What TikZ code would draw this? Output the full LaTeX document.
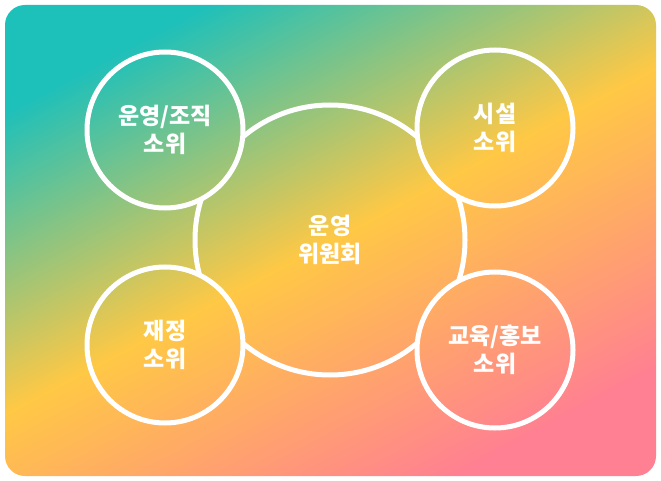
\documentclass[tikz,border=0pt]{standalone}
\usepackage{fontspec}
\newfontfamily\kr{Noto Sans CJK KR}
\definecolor{cteal}{HTML}{1EC0BA}
\definecolor{cyel}{HTML}{FFC845}
\definecolor{cpink}{HTML}{FF8092}
\begin{document}
\begin{tikzpicture}[x=1pt,y=-1pt,
  bg/.style={top color=cteal,bottom color=cpink,middle color=cyel,shading angle=28},
  ring/.style={circle,draw=white,line width=5pt,minimum size=156pt,inner sep=0pt,align=center,text=white,font=\kr\bfseries\fontsize{23}{28}\selectfont}]
\useasboundingbox (0,0) rectangle (661,481);
\shade[rounded corners=20pt,bg] (5,5) rectangle (656,476);
\node[ring,minimum size=270pt] (c) at (330,240) {운영\\위원회};
\foreach \p in {(165,130),(495,128),(165,345),(495,350)}{
  \begin{scope}\clip \p circle (78pt); \shade[bg] (5,5) rectangle (656,476);\end{scope}}
\node[ring] (a) at (165,130) {운영/조직\\소위};
\node[ring] (b) at (495,128) {시설\\소위};
\node[ring] (d) at (165,345) {재정\\소위};
\node[ring] (e) at (495,350) {교육/홍보\\소위};
\end{tikzpicture}
\end{document}
